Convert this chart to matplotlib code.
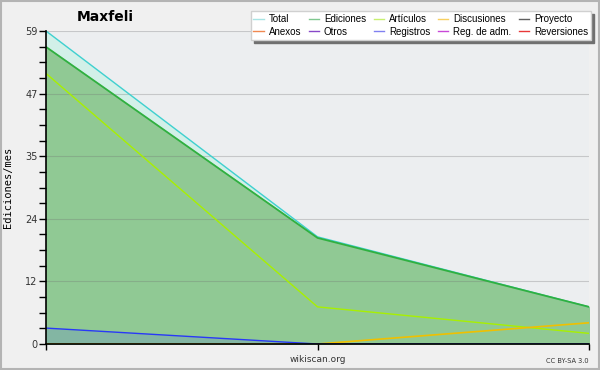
import matplotlib
matplotlib.use("Agg")
import matplotlib.pyplot as plt
import numpy as np
from matplotlib.ticker import FixedLocator
from matplotlib.lines import Line2D

# data
months = [0, 1, 2]
total = [59, 20.2, 7]
ediciones = [56, 20, 7]
articulos = [51, 7, 2]
discusiones = [0, 0, 4]
registros = [3, 0, 0]
ytick_labels = ["0", "12", "24", "35", "47", "59"]
ymax = 59

legend_names = ["Total", "Anexos", "Ediciones", "Otros", "Artículos", "Registros",
                "Discusiones", "Reg. de adm.", "Proyecto", "Reversiones"]
legend_colors = ["#a8e4e4", "#f08850", "#80c890", "#8848c8", "#c8f070", "#8080f0",
                 "#f8d060", "#c848d8", "#606060", "#e83838"]

fig = plt.figure(figsize=(6, 3.7), dpi=100, facecolor="#f0f0f0")
fig.patches.append(plt.Rectangle((0.0015, 0.002), 0.997, 0.996, transform=fig.transFigure,
                                 fill=False, edgecolor="#b4b4b4", linewidth=1.5))
ax = fig.add_axes([46/600, 26/370, 543/600, 313/370])
ax.set_facecolor("#eceef0")

x = np.array(months)
ax.fill_between(x, 0, total, color="#d2f0e8", alpha=1.0, zorder=1)
ax.plot(x, total, color="#40d0d0", lw=1, zorder=4)
ax.fill_between(x, 0, ediciones, color="#90c994", zorder=2)
ax.plot(x, ediciones, color="#30b040", lw=1.3, zorder=5)
ax.fill_between(x, 0, registros, color="#6080d0", alpha=0.25, zorder=3, lw=0)
ax.plot(x, articulos, color="#a8f000", lw=1, zorder=6)
ax.plot(x, discusiones, color="#f0c000", lw=1.2, zorder=6)
ax.plot(x, registros, color="#2838f8", lw=1, zorder=7)

ax.set_xlim(0, 2)
ax.set_ylim(0, ymax)
yt = np.linspace(0, ymax, len(ytick_labels))
ax.set_yticks(yt)
ax.set_yticklabels(ytick_labels, fontsize=7, color="#333333")
ax.yaxis.set_minor_locator(FixedLocator(np.linspace(0, ymax, 21)))
ax.tick_params(axis="y", which="major", length=5, width=1, pad=1)
ax.tick_params(axis="y", which="minor", length=5, width=1)
ax.set_xticks([0, 1, 2])
ax.set_xticklabels([])
ax.tick_params(axis="x", length=4, width=1)
ax.grid(axis="y", which="major", color="#707070", alpha=0.3, lw=0.8, zorder=3.5)
ax.set_axisbelow(False)
for s in ["top", "right"]:
    ax.spines[s].set_visible(False)
for s in ["left", "bottom"]:
    ax.spines[s].set_linewidth(1.2)
    ax.spines[s].set_zorder(10)

ax.set_ylabel("Ediciones/mes", fontsize=7.5, family="DejaVu Sans Mono", labelpad=9)
fig.text(105/600, 1 - 17/370, "Maxfeli", fontsize=10, fontweight="bold", ha="center", va="center")
fig.text(318/600, 1 - 360/370, "wikiscan.org", fontsize=6.5, ha="center", va="center", color="#333333")
fig.text(589/600, 1 - 361/370, "CC BY-SA 3.0", fontsize=4.8, ha="right", va="center", color="#333333")

handles = [Line2D([], [], color=c, lw=1) for c in legend_colors]
leg = fig.legend(handles, legend_names, ncol=5, loc="upper right",
                 bbox_to_anchor=(591/600, 1 - 11/370),
                 prop={"family": "Liberation Sans", "size": 7.0}, frameon=True,
                 fancybox=False, shadow={"color": "#707070", "alpha": 1, "ox": 2.5, "oy": -2.5},
                 handlelength=1.05, handletextpad=0.5,
                 columnspacing=0.8, labelspacing=0.3, borderpad=0.3, borderaxespad=0)
leg.get_frame().set_edgecolor("#d0d0d0")
leg.get_frame().set_facecolor("white")
leg.get_frame().set_alpha(1)

fig.savefig("out.png", dpi=100, facecolor=fig.get_facecolor())
